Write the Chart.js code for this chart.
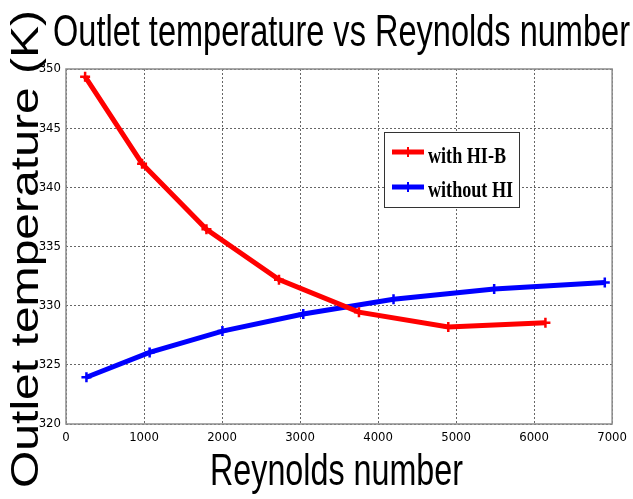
<!DOCTYPE html>
<html>
<head>
<meta charset="utf-8">
<script src="https://cdn.jsdelivr.net/npm/chart.js@4/dist/chart.umd.min.js"></script>
<style>
  html, body { margin: 0; padding: 0; background: #fff; }
  #wrap { width: 633px; height: 499px; }
</style>
</head>
<body>
<div id="wrap"><canvas id="chart" width="633" height="499"></canvas></div>
<script>
// values
const reynoldsHIB = [245, 975, 1800, 2730, 3755, 4900, 6145];
const tempHIB = [349.35, 342.0, 336.45, 332.2, 329.45, 328.2, 328.55];
const reynoldsNoHI = [262, 1072, 2005, 3041, 4198, 5488, 6906];
const tempNoHI = [323.95, 326.05, 327.85, 329.3, 330.55, 331.4, 331.95];
const seriesNames = ['with HI-B', 'without HI'];

const titleText = 'Outlet temperature vs Reynolds number';
const xTitle = 'Reynolds number';
const yTitle = 'Outlet temperature (K)';

const toPoints = (xs, ys) => xs.map((x, i) => ({ x: x, y: ys[i] }));

// the figure looks squeezed sideways, so the big texts are drawn scaled to a width
function squeezed(ctx, text, x, y, font, width) {
  ctx.save();
  ctx.font = font;
  const sx = width / ctx.measureText(text).width;
  ctx.translate(x, y);
  ctx.scale(sx, 1);
  ctx.textAlign = 'left';
  ctx.textBaseline = 'alphabetic';
  ctx.fillStyle = '#000';
  ctx.fillText(text, 0, 0);
  ctx.restore();
}

const decorations = {
  id: 'decorations',
  afterDraw(chart) {
    const ctx = chart.ctx;
    const a = chart.chartArea;

    // axes box
    ctx.save();
    ctx.setLineDash([]);
    ctx.strokeStyle = '#8c8c8c';
    ctx.lineWidth = 1.5;
    ctx.strokeRect(a.left, a.top, a.right - a.left, a.bottom - a.top);
    ctx.restore();

    squeezed(ctx, titleText, 53, 46, '44px "Liberation Sans", Arial, sans-serif', 577);
    squeezed(ctx, xTitle, 210, 485, '44px "Liberation Sans", Arial, sans-serif', 253);

    // y title, rotated
    ctx.save();
    ctx.translate(38, 488);
    ctx.rotate(-Math.PI / 2);
    squeezed(ctx, yTitle, 0, 0, '39px "Liberation Sans", Arial, sans-serif', 478);
    ctx.restore();

    // legend box
    const lx = 384.5, ly = 132.5, lw = 135, lh = 75;
    ctx.save();
    ctx.fillStyle = '#fff';
    ctx.fillRect(lx, ly, lw, lh);
    ctx.strokeStyle = '#333';
    ctx.lineWidth = 1;
    ctx.strokeRect(lx, ly, lw, lh);
    ctx.restore();

    const rowY = [152, 187];
    const baseY = [163, 197];
    const serif = 'bold 24px "Liberation Serif", "Times New Roman", serif';
    ctx.save();
    ctx.font = serif;
    const sx = 78 / ctx.measureText(seriesNames[0]).width;
    ctx.restore();
    chart.data.datasets.forEach((ds, i) => {
      ctx.save();
      ctx.strokeStyle = ds.borderColor;
      ctx.lineWidth = 5;
      ctx.beginPath();
      ctx.moveTo(392, rowY[i]);
      ctx.lineTo(424, rowY[i]);
      ctx.stroke();
      ctx.lineWidth = 2;
      ctx.beginPath();
      ctx.moveTo(408, rowY[i] - 5);
      ctx.lineTo(408, rowY[i] + 5);
      ctx.stroke();
      ctx.restore();

      ctx.save();
      ctx.font = serif;
      ctx.translate(428, baseY[i]);
      ctx.scale(sx, 1);
      ctx.fillStyle = '#000';
      ctx.textBaseline = 'alphabetic';
      ctx.fillText(ds.label, 0, 0);
      ctx.restore();
    });
  }
};

const tickFont = { family: '"Liberation Sans Narrow", "DejaVu Sans Condensed", "Liberation Sans", Arial, sans-serif', size: 13 };

new Chart(document.getElementById('chart').getContext('2d'), {
  type: 'line',
  data: {
    datasets: [
      {
        label: seriesNames[0],
        data: toPoints(reynoldsHIB, tempHIB),
        borderColor: '#ff0000',
        backgroundColor: '#ff0000',
        borderWidth: 5,
        pointStyle: 'cross',
        pointRadius: 5,
        pointBorderWidth: 2.5,
        tension: 0
      },
      {
        label: seriesNames[1],
        data: toPoints(reynoldsNoHI, tempNoHI),
        borderColor: '#0000ff',
        backgroundColor: '#0000ff',
        borderWidth: 5,
        pointStyle: 'cross',
        pointRadius: 5,
        pointBorderWidth: 2.5,
        tension: 0
      }
    ]
  },
  options: {
    responsive: false,
    animation: false,
    layout: { padding: { left: 0, top: 69, right: 15, bottom: 0 } },
    plugins: {
      legend: { display: false },
      title: { display: false },
      tooltip: { enabled: false }
    },
    scales: {
      x: {
        type: 'linear',
        min: 0,
        max: 7000,
        afterFit: (s) => { s.height = 75; },
        ticks: { stepSize: 1000, color: '#000', font: tickFont, padding: 6, maxRotation: 0, callback: (v) => String(v) },
        grid: { color: '#666', drawTicks: false },
        border: { display: false, dash: [2, 2] }
      },
      y: {
        min: 320,
        max: 350,
        afterFit: (s) => { s.width = 66; },
        ticks: { stepSize: 5, color: '#000', font: tickFont, padding: 5, callback: (v) => String(v) },
        grid: { color: '#666', drawTicks: false },
        border: { display: false, dash: [2, 2] }
      }
    }
  },
  plugins: [decorations]
});
</script>
</body>
</html>
